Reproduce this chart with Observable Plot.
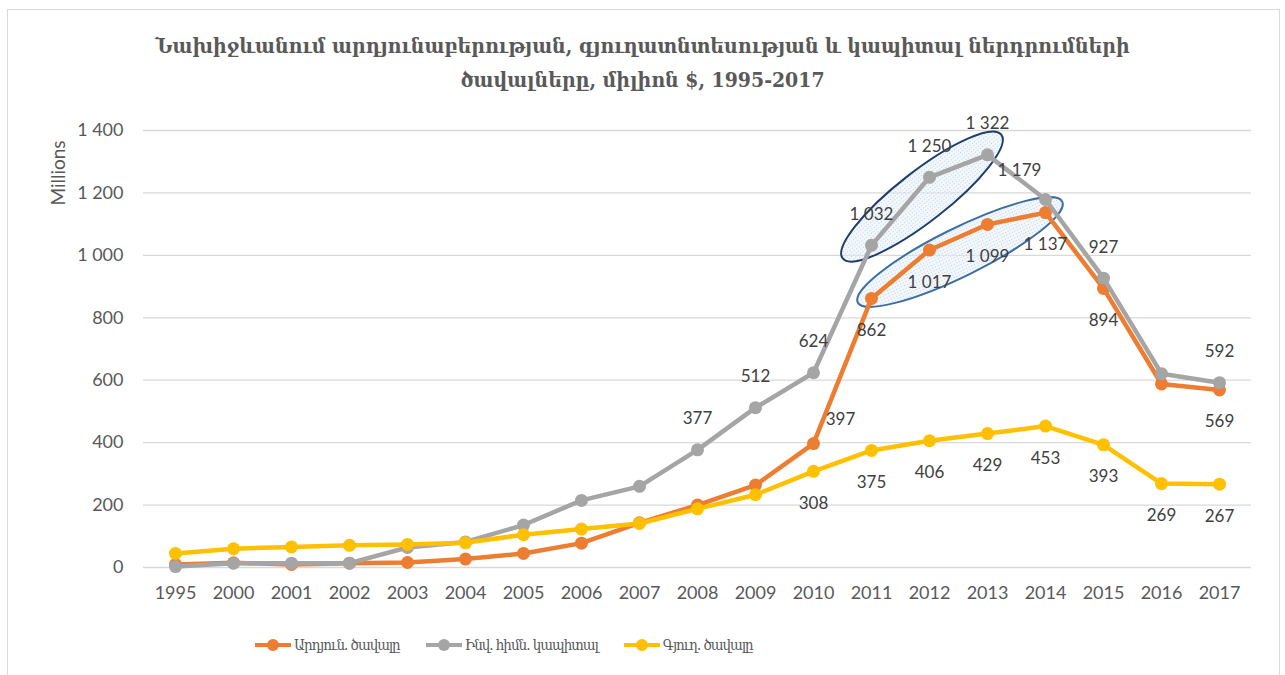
<!DOCTYPE html>
<html>
<head>
<meta charset="utf-8">
<script src="https://cdn.jsdelivr.net/npm/d3@7"></script>
<script src="https://cdn.jsdelivr.net/npm/@observablehq/plot@0.6"></script>
<style>
  body { margin: 0; background: #fff; }
  #wrap { position: relative; width: 1285px; height: 675px; overflow: hidden; background: #fff; }
  #frame { position: absolute; left: 7px; top: 9px; width: 1273px; height: 720px; border: 1.5px solid #d9d9d9; box-sizing: border-box; }
  #title { position: absolute; left: 0; top: 29px; width: 1285px; text-align: center;
    font-family: "DejaVu Serif Condensed", "DejaVu Serif", serif; font-stretch: condensed; font-weight: bold;
    font-size: 21px; line-height: 34px; color: #595959; }
  #chart { position: absolute; left: 0; top: 100px; }
  #ylabel { position: absolute; left: 57px; top: 173px; transform: translate(-50%, -50%) rotate(-90deg);
    font-family: Lato, sans-serif; font-size: 19px; color: #595959; white-space: nowrap; }
  #legend { position: absolute; left: 255px; top: 633px; height: 24px; display: flex; align-items: center; white-space: nowrap;
    font-family: "DejaVu Serif Condensed", "DejaVu Serif", serif; font-stretch: condensed; font-size: 15px; letter-spacing: -1px; color: #595959; }
  .item { display: flex; align-items: center; height: 24px; margin-right: 26px; }
  .sw { position: relative; width: 36px; height: 20px; margin-right: 3px; flex: none; }
  .sw .ln { position: absolute; left: 0; top: 8px; width: 36px; height: 4px; }
  .sw .dt { position: absolute; left: 12px; top: 4px; width: 12px; height: 12px; border-radius: 50%; }
</style>
</head>
<body>
<div id="wrap">
  <div id="frame"></div>
  <div id="title">Նախիջևանում արդյունաբերության, գյուղատնտեսության և կապիտալ ներդրումների<br>ծավալները, միլիոն $, 1995-2017</div>
  <div id="chart"></div>
  <div id="ylabel">Millions</div>
  <div id="legend"></div>
</div>
<script>
// ---- data ----
const years = ["1995","2000","2001","2002","2003","2004","2005","2006","2007","2008","2009","2010","2011","2012","2013","2014","2015","2016","2017"];
const industry    = [10, 15, 10, 14, 16, 27, 45, 78, 143, 200, 264, 397, 862, 1017, 1099, 1137, 894, 588, 569];
const investment  = [3, 14, 14, 14, 64, 82, 136, 215, 260, 377, 512, 624, 1032, 1250, 1322, 1179, 927, 621, 592];
const agriculture = [45, 60, 66, 71, 74, 79, 105, 123, 141, 188, 233, 308, 375, 406, 429, 453, 393, 269, 267];
const seriesNames = ["Արդյուն. ծավալը", "Ինվ. հիմն. կապիտալ", "Գյուղ. ծավալը"];
const yTicks = [0, 200, 400, 600, 800, 1000, 1200, 1400];
const labeledYears = {
  industry:    ["2010","2011","2012","2013","2014","2015","2017"],
  investment:  ["2008","2009","2010","2011","2012","2013","2014","2015","2017"],
  agriculture: ["2010","2011","2012","2013","2014","2015","2016","2017"]
};

// ---- styling ----
const colors = ["#ED7D31", "#A5A5A5", "#FFC000"];
const keys = ["industry", "investment", "agriculture"];
const values = [industry, investment, agriculture];
const fmt = v => d3.format(",")(v).replace(/,/g, " ");

const rows = keys.map((k, i) => years.map((yr, j) => ({series: k, idx: i, year: yr, value: values[i][j]})));
// label placement (style only)
const placement = (d) => {
  if (d.series === "industry" && d.year === "2010") return {dx: 27, dy: -24};
  if (d.series === "investment" && d.year === "2014") return {dx: -26, dy: -29};
  if (d.series === "investment") return {dx: 0, dy: -31};
  return {dx: 0, dy: 32};
};

const marks = [
  Plot.gridY(yTicks, {stroke: "#d9d9d9", strokeOpacity: 1, strokeWidth: 1.3}),
  Plot.axisY({ticks: yTicks, tickSize: 0, tickPadding: 20, tickFormat: fmt, fontSize: 18, label: null, fill: "#595959"}),
  Plot.axisX({tickSize: 0, tickPadding: 19, fontSize: 18, label: null, fill: "#595959"})
];
rows.forEach((data, i) => {
  marks.push(Plot.line(data, {x: "year", y: "value", stroke: colors[i], strokeWidth: 4.5, strokeLinejoin: "round"}));
  marks.push(Plot.dot(data, {x: "year", y: "value", fill: colors[i], r: 6.5}));
});
rows.forEach((data, i) => {
  const lab = data.filter(d => labeledYears[d.series].includes(d.year));
  const groups = d3.groups(lab, d => JSON.stringify(placement(d)));
  groups.forEach(([p, ds]) => {
    const {dx, dy} = JSON.parse(p);
    marks.push(Plot.text(ds, {x: "year", y: "value", text: d => fmt(d.value), dx, dy,
      fontSize: 17, fill: "#404040", fontFamily: "Lato, sans-serif"}));
  });
});

const plot = Plot.plot({
  width: 1285, height: 515,
  marginLeft: 143, marginRight: 34, marginTop: 30, marginBottom: 48,
  style: {fontFamily: "Lato, sans-serif", fontSize: "18px", color: "#595959", background: "transparent"},
  x: {type: "point", domain: years, padding: 0.5},
  y: {domain: [0, 1400]},
  marks
});
document.getElementById("chart").appendChild(plot);

// ---- annotation ellipses anchored on data points ----
const sx = plot.scale("x"), sy = plot.scale("y");
const svg = d3.select(plot);
const defs = svg.insert("defs", ":first-child");
const pat = defs.append("pattern").attr("id", "dots").attr("width", 3).attr("height", 3).attr("patternUnits", "userSpaceOnUse");
pat.append("rect").attr("width", 3).attr("height", 3).attr("fill", "#eaf2fa").attr("opacity", 0.5);
pat.append("circle").attr("cx", 1.5).attr("cy", 1.5).attr("r", 0.6).attr("fill", "#a9cbea");
const firstLine = plot.querySelector("g[aria-label='line']");
function ellipse(series, y0, y1, pad, ry, stroke, ox, oy) {
  const arr = values[keys.indexOf(series)];
  const a = [sx.apply(y0), sy.apply(arr[years.indexOf(y0)])];
  const b = [sx.apply(y1), sy.apply(arr[years.indexOf(y1)])];
  const cx = (a[0] + b[0]) / 2 + ox, cy = (a[1] + b[1]) / 2 + oy;
  const ang = Math.atan2(b[1] - a[1], b[0] - a[0]) * 180 / Math.PI;
  const rx = Math.hypot(b[0] - a[0], b[1] - a[1]) / 2 + pad;
  const e = document.createElementNS("http://www.w3.org/2000/svg", "ellipse");
  d3.select(e).attr("cx", cx).attr("cy", cy).attr("rx", rx).attr("ry", ry)
    .attr("transform", `rotate(${ang} ${cx} ${cy})`)
    .attr("fill", "url(#dots)").attr("stroke", stroke).attr("stroke-width", 2);
  plot.insertBefore(e, firstLine);
}
ellipse("investment", "2011", "2013", 27, 25, "#1F3E6B", -7, -3);
ellipse("industry", "2011", "2014", 17, 24, "#3D6FA3", 2, -3);

// ---- legend ----
const legend = d3.select("#legend");
seriesNames.forEach((n, i) => {
  const it = legend.append("div").attr("class", "item");
  const sw = it.append("div").attr("class", "sw");
  sw.append("div").attr("class", "ln").style("background", colors[i]);
  sw.append("div").attr("class", "dt").style("background", colors[i]);
  it.append("span").text(n);
});
</script>
</body>
</html>
